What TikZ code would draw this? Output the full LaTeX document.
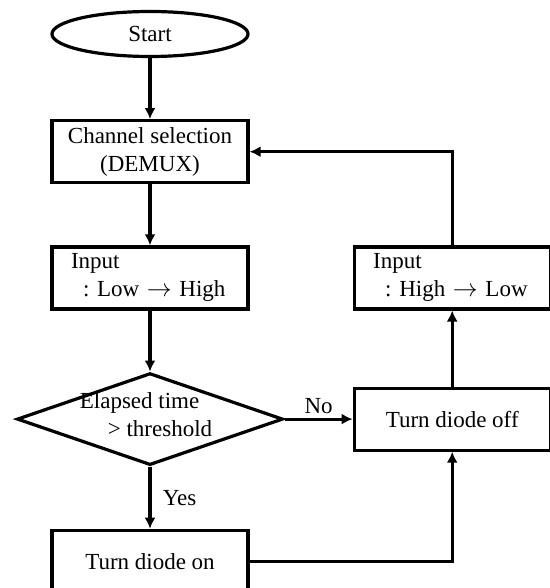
\documentclass[tikz,border=0pt]{standalone}
\usepackage{fontspec}
\setmainfont{Liberation Serif}
\usepackage{tikz}
\usetikzlibrary{shapes.geometric, positioning, arrows.meta}
\frenchspacing
\tikzstyle{startstop} = [ellipse, minimum width=196pt, minimum height=45pt, inner sep=0pt, text centered, draw=black, line width=3.2pt]
\tikzstyle{process} = [rectangle, minimum width=196pt, minimum height=62pt, text centered, align=center, draw=black, line width=3.2pt]
\tikzstyle{inputbox} = [process, align=left, text width=158pt, inner xsep=19pt]
\tikzstyle{decision} = [diamond, minimum width=266pt, minimum height=92pt, inner sep=0pt, draw=black, line width=3.2pt]
\tikzstyle{arrow} = [line width=3.2pt, -{Latex[length=11pt,width=11pt]}]

\begin{document}
\begin{tikzpicture}[font=\fontsize{23}{28}\selectfont]
		\useasboundingbox (0,0) rectangle (549pt,-588pt);
		\node (Start)[startstop] at (150pt,-34pt) {Start};
		\node (Demux)[process, below = 61pt of Start]{Channel selection\\(DEMUX)};
		\node (InLowHigh)[inputbox, below = 61pt of Demux]{Input\\\hspace*{12pt}\mbox{: Low $\rightarrow$ High}};
		\node (Elapsed)[decision, below = 61pt of InLowHigh]{};
		\node (ElapsedText)[align=left, xshift=-4pt, yshift=4pt] at (Elapsed) {Elapsed time\\\hspace*{28pt}> threshold};
		\node (DiodeOn)[process, below = 62pt of Elapsed]{Turn diode on};
		\node (DiodeOff)[process, right = 68pt of Elapsed]{Turn diode off};
		\node (InHighLow)[inputbox, above = 76pt of DiodeOff]{Input\\\hspace*{12pt}\mbox{: High $\rightarrow$ Low}};
		\draw [arrow] (Start) -- (Demux);
		\draw [arrow] (Demux) -- (InLowHigh);
		\draw [arrow] (InLowHigh) -- (Elapsed);
		\draw [arrow] (Elapsed) -- node[right, xshift=8pt]{Yes} (DiodeOn);
		\draw [arrow] (Elapsed) -- node[above]{No} (DiodeOff);
		\draw [arrow] (DiodeOff) -- (InHighLow);
		\draw [arrow] (InHighLow.north) |- (Demux.east);
		\draw [arrow] (DiodeOn.east) -| (DiodeOff.south);
	\end{tikzpicture}
\end{document}
